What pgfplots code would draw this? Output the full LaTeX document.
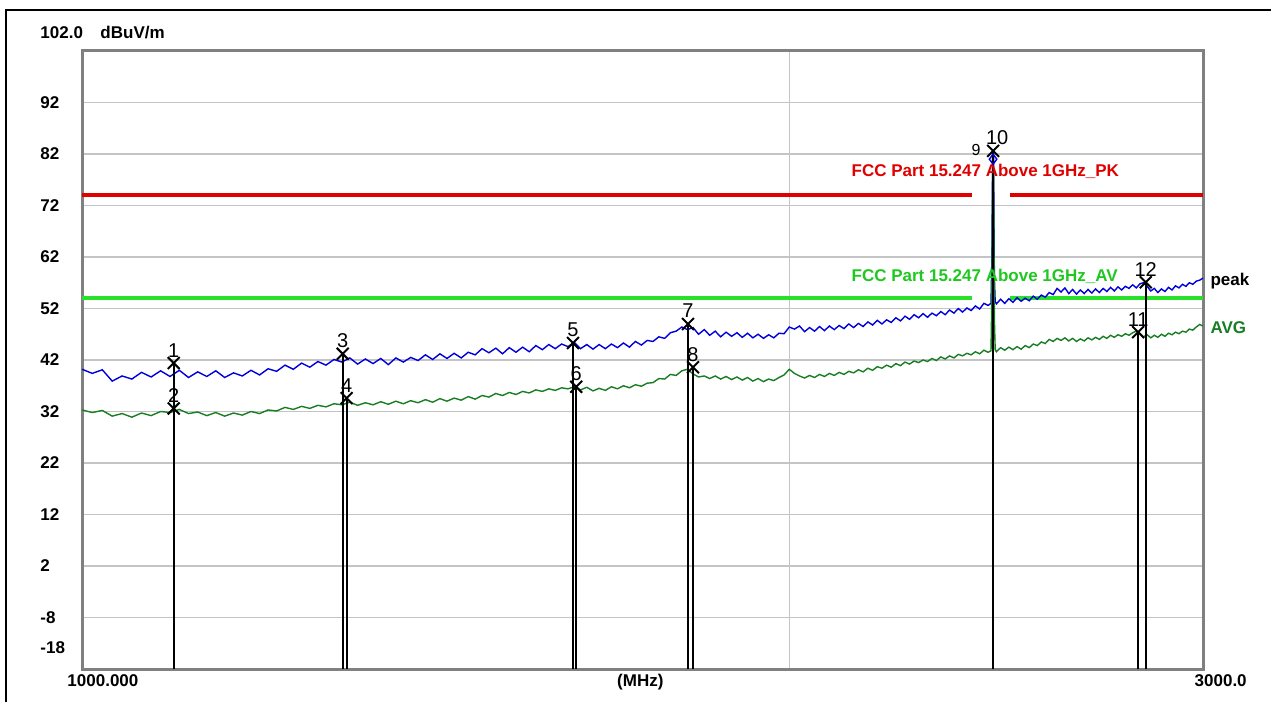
\documentclass[border=0pt]{standalone}
\usepackage{fontspec}
\setmainfont{Liberation Sans}
\usepackage{pgfplots}
\pgfplotsset{compat=1.18}
\usepackage{pgfplotstable}

\definecolor{tracepk}{RGB}{0,0,220}
\definecolor{traceav}{RGB}{25,125,35}
\definecolor{limpk}{RGB}{225,0,0}
\definecolor{limav}{RGB}{40,225,40}
\definecolor{labav}{RGB}{30,200,30}
\definecolor{framec}{RGB}{128,128,128}
\definecolor{gridc}{RGB}{196,196,196}

\pgfplotstableread{
f db
1000 40.2
1010 39.4
1020 40.1
1030 37.9
1040 38.9
1050 38.3
1060 39.6
1070 38.7
1080 39.9
1090 38.8
1100 40.0
1110 38.6
1120 39.7
1130 38.8
1140 39.9
1150 38.6
1160 39.5
1170 38.9
1180 40.0
1190 39.1
1200 40.3
1210 39.8
1220 41.0
1230 40.2
1240 41.4
1250 40.6
1260 41.7
1270 41.0
1280 42.1
1290 41.6
1300 42.4
1310 41.2
1320 42.2
1330 41.3
1340 42.3
1350 41.1
1360 42.4
1370 41.6
1380 42.5
1390 41.9
1400 43.0
1410 42.1
1420 43.2
1430 42.3
1440 43.3
1450 42.4
1460 43.5
1470 43.0
1480 44.2
1490 43.4
1500 44.3
1510 43.2
1520 44.4
1530 43.5
1540 44.5
1550 43.6
1560 44.8
1570 44.0
1580 45.0
1590 44.2
1600 45.1
1610 44.6
1620 45.4
1630 44.2
1640 45.0
1650 44.1
1660 45.0
1670 44.2
1680 45.1
1690 44.4
1700 45.3
1710 44.5
1720 45.6
1730 44.9
1740 45.8
1750 45.6
1760 46.5
1770 46.2
1780 47.3
1790 47.6
1800 48.4
1810 47.9
1820 48.3
1830 47.0
1840 47.9
1850 46.8
1860 47.6
1870 46.5
1880 47.4
1890 46.6
1900 47.3
1910 46.4
1920 47.2
1930 46.3
1940 47.0
1950 46.2
1960 46.9
1970 46.3
1980 47.2
1990 47.1
2000 48.4
2010 48.0
2020 48.6
2030 47.5
2040 48.3
2050 47.6
2060 48.5
2070 47.7
2080 48.6
2090 47.9
2100 48.7
2110 48.1
2120 49.0
2130 48.3
2140 49.1
2150 48.5
2160 49.4
2170 48.8
2180 49.7
2190 49.0
2200 49.8
2210 49.3
2220 50.2
2230 49.6
2240 50.5
2250 49.9
2260 50.8
2270 50.2
2280 51.0
2290 50.3
2300 51.1
2310 50.6
2320 51.4
2330 50.8
2340 51.7
2350 51.1
2360 52.0
2370 51.3
2380 52.1
2390 51.6
2400 52.5
2410 51.9
2420 53.0
2430 52.6
2437 53.0
2439 62.0
2441 82.3
2443 81.8
2445 58.0
2447 53.3
2450 52.9
2460 53.8
2470 53.0
2480 53.9
2490 53.2
2500 54.1
2510 53.4
2520 54.0
2530 53.5
2540 54.4
2550 53.8
2560 54.6
2570 54.2
2580 55.1
2590 54.7
2600 55.9
2610 55.2
2620 56.0
2630 54.9
2640 55.7
2650 54.8
2660 55.6
2670 54.9
2680 55.7
2690 55.0
2700 55.8
2710 55.1
2720 55.9
2730 55.3
2740 56.1
2750 55.4
2760 56.2
2770 55.6
2780 56.3
2790 55.9
2800 56.6
2810 56.0
2820 56.8
2830 57.0
2840 56.3
2850 55.4
2860 55.9
2870 55.1
2880 55.8
2890 55.3
2900 56.1
2910 55.6
2920 56.4
2930 56.0
2940 56.7
2950 56.3
2960 57.0
2970 56.7
2980 57.3
2990 57.5
3000 57.9
}\peaktrace

\pgfplotstableread{
f db
1000 32.3
1010 31.8
1020 32.2
1030 31.1
1040 31.6
1050 30.9
1060 31.7
1070 31.2
1080 32.0
1090 31.8
1100 32.4
1110 31.6
1120 31.9
1130 31.2
1140 31.8
1150 31.1
1160 31.7
1170 31.3
1180 32.0
1190 31.6
1200 32.3
1210 32.1
1220 32.8
1230 32.4
1240 33.0
1250 32.6
1260 33.2
1270 32.9
1280 33.5
1290 33.3
1300 33.8
1310 33.2
1320 33.7
1330 33.3
1340 33.9
1350 33.4
1360 34.0
1370 33.5
1380 34.1
1390 33.7
1400 34.3
1410 33.8
1420 34.5
1430 34.0
1440 34.6
1450 34.2
1460 34.9
1470 34.4
1480 35.1
1490 34.8
1500 35.5
1510 35.1
1520 35.7
1530 35.3
1540 35.9
1550 35.6
1560 36.2
1570 35.9
1580 36.4
1590 36.1
1600 36.6
1610 36.4
1620 36.8
1630 36.2
1640 36.7
1650 36.0
1660 36.5
1670 36.1
1680 36.8
1690 36.4
1700 37.0
1710 36.6
1720 37.2
1730 36.9
1740 37.5
1750 37.6
1760 38.4
1770 38.3
1780 39.2
1790 39.0
1800 39.9
1810 40.2
1820 39.3
1830 38.7
1840 38.9
1850 38.4
1860 38.9
1870 38.3
1880 38.8
1890 38.2
1900 38.7
1910 38.1
1920 38.6
1930 37.9
1940 38.4
1950 37.8
1960 38.3
1970 38.0
1980 38.6
1990 39.1
2000 40.2
2010 39.4
2020 38.9
2030 38.5
2040 39.0
2050 38.6
2060 39.2
2070 38.8
2080 39.4
2090 39.0
2100 39.6
2110 39.2
2120 39.8
2130 39.5
2140 40.1
2150 39.7
2160 40.4
2170 40.0
2180 40.7
2190 40.4
2200 41.0
2210 40.6
2220 41.3
2230 40.9
2240 41.6
2250 41.2
2260 41.8
2270 41.5
2280 42.0
2290 41.7
2300 42.3
2310 41.9
2320 42.6
2330 42.2
2340 42.8
2350 42.4
2360 43.1
2370 42.8
2380 43.3
2390 43.0
2400 43.6
2410 43.2
2420 43.9
2430 43.5
2437 43.8
2439 55.0
2441 80.0
2443 79.5
2445 50.0
2447 44.0
2450 43.6
2460 44.4
2470 43.9
2480 44.5
2490 44.0
2500 44.6
2510 44.1
2520 44.8
2530 44.4
2540 45.1
2550 44.8
2560 45.5
2570 45.2
2580 46.0
2590 45.6
2600 46.2
2610 45.8
2620 46.3
2630 45.7
2640 46.2
2650 45.6
2660 46.1
2670 45.7
2680 46.3
2690 45.9
2700 46.4
2710 46.0
2720 46.6
2730 46.2
2740 46.8
2750 46.4
2760 46.9
2770 46.6
2780 47.1
2790 46.8
2800 47.3
2810 47.6
2820 47.2
2830 46.5
2840 46.9
2850 46.3
2860 46.8
2870 46.4
2880 47.0
2890 46.6
2900 47.2
2910 46.9
2920 47.4
2930 47.1
2940 47.6
2950 47.4
2960 48.0
2970 47.8
2980 48.4
2990 48.9
3000 48.6
}\avgtrace

\pgfplotstableread{
f db label
1094 41.4 1
1094 32.6 2
1291 43.2 3
1296 34.6 4
1618 45.3 5
1623 36.8 6
1811 49.0 7
1820 40.6 8
2815 47.4 11
2836 57.1 12
}\markers

\pgfplotstableread{
f db label
2442 82.6 10
}\markerten

\pgfplotstableread{
f db label
2442 81.0 9
}\markernine

\begin{document}
\begin{tikzpicture}[font=\fontsize{8.5bp}{10bp}\selectfont\bfseries]
\useasboundingbox (0,0) rectangle (635.5bp,351bp);
\draw[black, line width=1bp] (3bp,0) -- (3bp,346bp) -- (635.5bp,346bp);
\begin{axis}[
  at={(41bp,16.5bp)}, anchor=south west,
  scale only axis, width=560.5bp, height=309bp,
  xmode=log, xmin=1000, xmax=3000, ymin=-18, ymax=102,
  xtick={2000}, xticklabels={}, minor xtick={},
  ytick={-8,2,12,22,32,42,52,62,72,82,92},
  major tick length=0pt,
  xmajorgrids, ymajorgrids,
  grid style={gridc, line width=0.6bp},
  axis line style={framec, line width=1.5bp},
  /pgf/number format/assume math mode=true,
  yticklabel style={anchor=west, inner sep=0pt, xshift=-21bp,
    font=\fontsize{8.5bp}{10bp}\selectfont\bfseries},
  clip=false,
]
% limit lines
\addplot[limpk, line width=1.8bp] coordinates {(1000,74) (2392,74)};
\addplot[limpk, line width=1.8bp] coordinates {(2483,74) (3000,74)};
\addplot[limav, line width=1.8bp] coordinates {(1000,54) (2392,54)};
\addplot[limav, line width=1.8bp] coordinates {(2483,54) (3000,54)};
% traces
\addplot[tracepk, line width=0.7bp] table[x=f, y=db] {\peaktrace};
\addplot[traceav, line width=0.7bp] table[x=f, y=db] {\avgtrace};
% marker drop lines
\addplot[black, line width=1bp] coordinates {(1094,-18) (1094,41.4)};
\addplot[black, line width=1bp] coordinates {(1291,-18) (1291,43.2)};
\addplot[black, line width=1bp] coordinates {(1296,-18) (1296,34.6)};
\addplot[black, line width=1bp] coordinates {(1618,-18) (1618,45.3)};
\addplot[black, line width=1bp] coordinates {(1623,-18) (1623,36.8)};
\addplot[black, line width=1bp] coordinates {(1811,-18) (1811,49.0)};
\addplot[black, line width=1bp] coordinates {(1820,-18) (1820,40.6)};
\addplot[black, line width=1bp] coordinates {(2442,-18) (2442,82.6)};
\addplot[black, line width=1bp] coordinates {(2815,-18) (2815,47.4)};
\addplot[black, line width=1bp] coordinates {(2836,-18) (2836,57.1)};
% markers
\addplot[only marks, mark=x, mark size=4.2bp, mark options={black, line width=1bp},
  nodes near coords, point meta=explicit symbolic,
  nodes near coords style={anchor=south, inner sep=0.5bp, yshift=2bp, text=black,
    font=\fontsize{10bp}{11bp}\selectfont}]
  table[x=f, y=db, meta=label] {\markers};
\addplot[only marks, mark=x, mark size=4.2bp, mark options={black, line width=1bp},
  nodes near coords, point meta=explicit symbolic,
  nodes near coords style={anchor=south west, inner sep=0.5bp, xshift=-4.5bp, yshift=2bp, text=black,
    font=\fontsize{10bp}{11bp}\selectfont}]
  table[x=f, y=db, meta=label] {\markerten};
\addplot[only marks, mark=diamond, mark size=2.5bp, mark options={tracepk, line width=0.7bp},
  nodes near coords, point meta=explicit symbolic,
  nodes near coords style={anchor=south east, inner sep=0.5bp, xshift=-5.5bp, yshift=1bp, text=black,
    font=\fontsize{8bp}{9bp}\selectfont}]
  table[x=f, y=db, meta=label] {\markernine};
% texts
\node[anchor=west, inner sep=0pt, text=limpk] at (axis cs:2125,78.7) {FCC Part 15.247 Above 1GHz\_PK};
\node[anchor=west, inner sep=0pt, text=labav] at (axis cs:2125,58.3) {FCC Part 15.247 Above 1GHz\_AV};
\node[anchor=west, inner sep=0pt, text=black] at (axis cs:3000,57.3) [xshift=3.5bp] {peak};
\node[anchor=west, inner sep=0pt, text=traceav] at (axis cs:3000,48.2) [xshift=3.5bp] {AVG};
\node[anchor=west, inner sep=0pt] at (rel axis cs:0,1) [xshift=-21bp, yshift=9bp] {102.0};
\node[anchor=west, inner sep=0pt] at (rel axis cs:0,1) [xshift=9bp, yshift=9bp] {dBuV/m};
\node[anchor=west, inner sep=0pt] at (rel axis cs:0,0) [xshift=-21bp, yshift=10.5bp] {-18};
\node[anchor=north west, inner sep=0pt] at (rel axis cs:0,0) [xshift=-7.5bp, yshift=-2.5bp] {1000.000};
\node[anchor=north, inner sep=0pt] at (rel axis cs:0.498,0) [yshift=-2.5bp] {(MHz)};
\node[anchor=north east, inner sep=0pt] at (rel axis cs:1,0) [xshift=22bp, yshift=-2.5bp] {3000.0};
\end{axis}
\end{tikzpicture}
\end{document}
